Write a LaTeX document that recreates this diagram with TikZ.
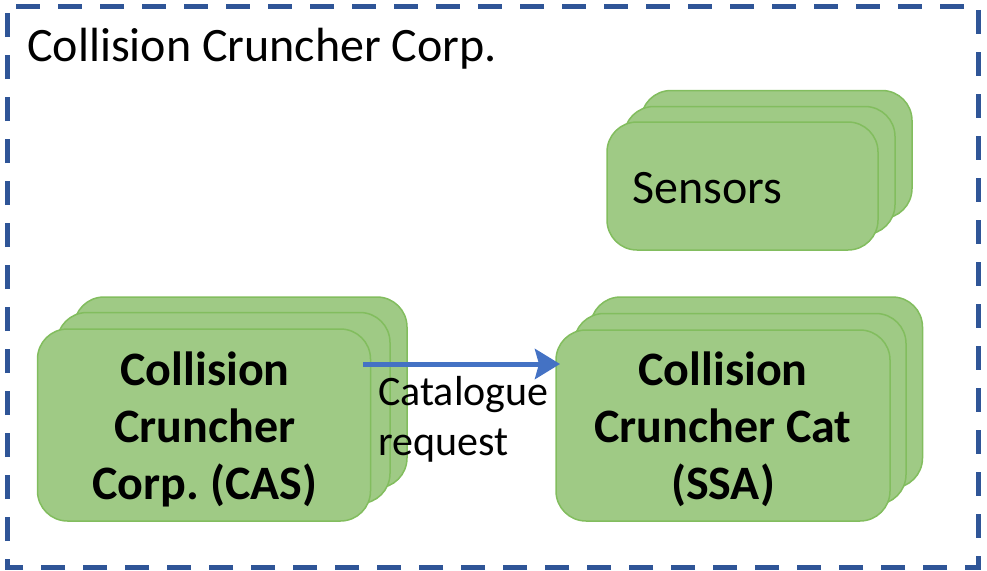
\documentclass[tikz,border=0pt]{standalone}
\usepackage{fontspec}
\setmainfont{Carlito}
\usetikzlibrary{arrows.meta}
\frenchspacing
\definecolor{framecol}{HTML}{2F5597}
\definecolor{boxfill}{HTML}{9FCA85}
\definecolor{boxdraw}{HTML}{82BD5E}
\definecolor{arrowcol}{HTML}{4472C4}
\begin{document}
\begin{tikzpicture}[x=1pt,y=-1pt,
  box/.style={draw=boxdraw, fill=boxfill, line width=1.5pt, rounded corners=30pt, inner sep=0pt},
  boldtext/.style={font=\fontsize{48}{57}\selectfont\bfseries, align=center},
  plaintext/.style={font=\fontsize{48}{58}\selectfont},
  labeltext/.style={font=\fontsize{42}{50}\selectfont, align=left, inner sep=0pt},
  frame/.style={draw=framecol, line width=5pt, dash pattern=on 24pt off 18pt, dash phase=33pt},
  conn/.style={draw=arrowcol, line width=5pt, -{Stealth[length=25pt,width=30pt,inset=4pt]}}
]
\useasboundingbox (0,0) rectangle (987,570);
\path[frame] (7,6) -- (978,6) -- (978,567) -- (7,567) -- cycle;
\node[plaintext, anchor=base west, inner sep=0pt] (title) at (27,61) {Collision Cruncher Corp.};

% Sensors stack
\node[box, minimum width=271pt, minimum height=128pt] (sen3) at (776.5,154.5) {};
\node[box, minimum width=271pt, minimum height=128pt] (sen2) at (759.5,170.5) {};
\node[box, minimum width=271pt, minimum height=128pt] (sen) at (742.5,186) {};
\node[plaintext, anchor=west, inner sep=0pt] (sentext) at (632,188) {Sensors};

% CAS stack
\node[box, minimum width=333pt, minimum height=191pt] (cas3) at (240.5,392.5) {};
\node[box, minimum width=333pt, minimum height=191pt] (cas2) at (223.5,408) {};
\node[box, minimum width=333pt, minimum height=192pt] (cas) at (204,425) {};
\node[boldtext, inner sep=0pt] (castext) at (205,429) {Collision\\Cruncher\\Corp. (CAS)};

% SSA stack
\node[box, minimum width=332pt, minimum height=191pt] (ssa3) at (756.5,392.5) {};
\node[box, minimum width=332pt, minimum height=191pt] (ssa2) at (740,409) {};
\node[box, minimum width=334pt, minimum height=191pt] (ssa) at (723,425.5) {};
\node[boldtext, inner sep=0pt] (ssatext) at (723,429) {Collision\\Cruncher Cat\\(SSA)};

% Arrow
\coordinate (a1) at (363,364);
\coordinate (a2) at (560,364);
\path[conn] (a1) -- (a2);
\node[labeltext, anchor=base west] (lbl) at (378,455) {Catalogue\\request};
\end{tikzpicture}
\end{document}
